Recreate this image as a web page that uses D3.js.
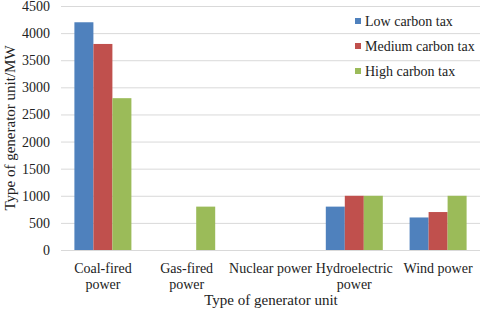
<!DOCTYPE html>
<html><head><meta charset="utf-8">
<script src="https://cdn.jsdelivr.net/npm/d3@7"></script>
<style>body{margin:0;background:#fff}svg{display:block}</style>
</head><body><svg id="c" width="480" height="311"></svg>
<script>
const categories = [["Coal-fired","power"],["Gas-fired","power"],["Nuclear power"],["Hydroelectric","power"],["Wind power"]];
const seriesNames = ["Low carbon tax","Medium carbon tax","High carbon tax"];
const lowTax = [4200, 0, 0, 800, 600];
const mediumTax = [3800, 0, 0, 1000, 700];
const highTax = [2800, 800, 0, 1000, 1000];
const yTicks = [0,500,1000,1500,2000,2500,3000,3500,4000,4500];
const colors = ["#4F81BD","#C0504D","#9BBB59"];
const series = [lowTax, mediumTax, highTax];

(function(){
const FF = "Liberation Serif";
const svg = d3.select("#c");
const mLeft = 61, mRight = 480, mTop = 6, mBottom = 250;
const x = d3.scaleBand().domain(d3.range(categories.length)).range([mLeft, mRight]).paddingInner(0).paddingOuter(0);
const y = d3.scaleLinear().domain([0, 4500]).range([mBottom, mTop]);
const bw = 19;
const x1 = d3.scaleBand().domain(d3.range(3)).range([0, bw*3]);

svg.append("g").selectAll("line").data(yTicks).join("line")
  .attr("x1", mLeft).attr("x2", mRight).attr("y1", d => y(d)+0.5).attr("y2", d => y(d)+0.5)
  .attr("stroke", "#D9D9D9").attr("stroke-width", 1);

const yAxis = d3.axisLeft(y).tickValues(yTicks).tickSize(0).tickPadding(11).tickFormat(d3.format("d"));
const ga = svg.append("g").attr("transform", `translate(${mLeft},0)`).call(yAxis);
ga.attr("font-family", FF).attr("font-size", 14);
ga.select(".domain").remove();
ga.selectAll("text").attr("font-family", FF).attr("font-size", 14).attr("fill", "#222");

series.forEach((vals, si) => {
  svg.append("g").selectAll("rect").data(vals).join("rect")
    .attr("x", (d, i) => x(i) + x.bandwidth()/2 - bw*1.5 + x1(si))
    .attr("width", x1.bandwidth())
    .attr("y", d => y(d))
    .attr("height", d => mBottom - y(d))
    .attr("fill", colors[si]);
});

const cl = svg.append("g");
categories.forEach((lines, i) => {
  const t = cl.append("text").attr("x", x(i) + x.bandwidth()/2).attr("y", 273)
    .attr("text-anchor", "middle").attr("font-family", FF).attr("font-size", 14).attr("fill", "#222");
  lines.forEach((ln, j) => t.append("tspan").attr("x", x(i) + x.bandwidth()/2).attr("dy", j ? 16 : 0).text(ln));
});

svg.append("text").attr("x", 271).attr("y", 305).attr("text-anchor", "middle")
  .attr("font-family", FF).attr("font-size", 15).attr("fill", "#222").text("Type of generator unit");
svg.append("text").attr("transform", "translate(15,128) rotate(-90)").attr("text-anchor", "middle")
  .attr("font-family", FF).attr("font-size", 15).attr("fill", "#222").text("Type of generator unit/MW");

const lg = svg.append("g");
seriesNames.forEach((n, i) => {
  const cy = 21 + i*25;
  lg.append("rect").attr("x", 355).attr("y", cy-3).attr("width", 6).attr("height", 6).attr("fill", colors[i]);
  lg.append("text").attr("x", 365).attr("y", cy+5).attr("font-family", FF).attr("font-size", 14).attr("fill", "#222").text(n);
});
})();
</script></body></html>
